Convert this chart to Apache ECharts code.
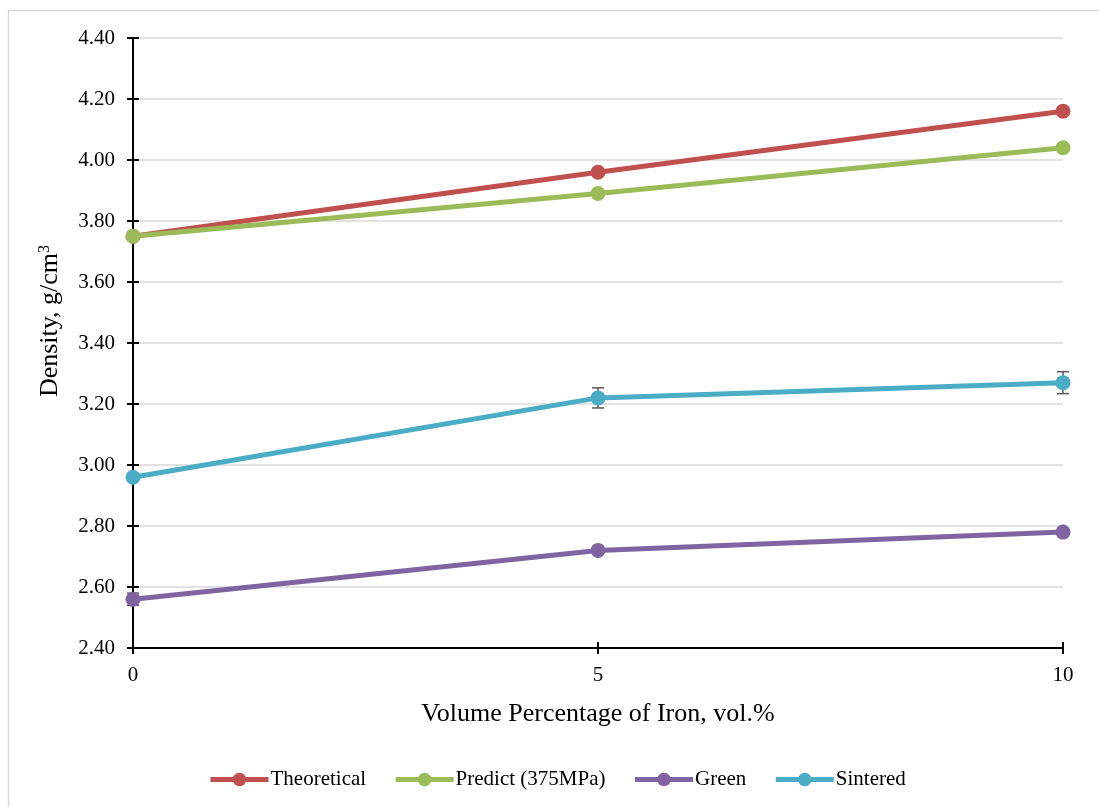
<!DOCTYPE html>
<html>
<head>
<meta charset="utf-8">
<script src="https://cdn.jsdelivr.net/npm/echarts@6/dist/echarts.min.js"></script>
<style>
  html, body { margin: 0; padding: 0; background: #fff; }
  #main { width: 1099px; height: 807px; }
</style>
</head>
<body>
<div id="main"></div>
<script type="text/javascript">
    // data
    var xValues = [0, 5, 10];
    var theoretical = [3.75, 3.96, 4.16];
    var predict = [3.75, 3.89, 4.04];
    var green = [2.56, 2.72, 2.78];
    var sintered = [2.96, 3.22, 3.27];
    var greenErr = [0.02, 0.01, 0.01];
    var sinteredErr = [0.01, 0.033, 0.036];

    var font = '"Liberation Serif", "Times New Roman", serif';

    function pairs(ys) {
        var out = [];
        for (var i = 0; i < ys.length; i++) out.push([xValues[i], ys[i]]);
        return out;
    }
    function errData(ys, es) {
        var out = [];
        for (var i = 0; i < ys.length; i++) out.push([xValues[i], ys[i] - es[i], ys[i] + es[i]]);
        return out;
    }
    function errRender(params, api) {
        var lo = api.coord([api.value(0), api.value(1)]);
        var hi = api.coord([api.value(0), api.value(2)]);
        var w = 6;
        var st = { stroke: '#595959', lineWidth: 1.5 };
        return {
            type: 'group',
            children: [
                { type: 'line', shape: { x1: lo[0], y1: lo[1], x2: hi[0], y2: hi[1] }, style: st },
                { type: 'line', shape: { x1: lo[0] - w, y1: lo[1], x2: lo[0] + w, y2: lo[1] }, style: st },
                { type: 'line', shape: { x1: hi[0] - w, y1: hi[1], x2: hi[0] + w, y2: hi[1] }, style: st }
            ]
        };
    }
    function lineSeries(name, ys, color) {
        return {
            name: name, type: 'line', data: pairs(ys),
            symbol: 'circle', symbolSize: 15,
            lineStyle: { width: 5, color: color },
            itemStyle: { color: color },
            z: 3
        };
    }

    var myChart = echarts.init(document.getElementById('main'));
    var option = {
        animation: false,
        backgroundColor: '#fff',
        textStyle: { fontFamily: font },
        graphic: [{
            type: 'rect', left: 6, top: 8, silent: true,
            shape: { width: 1200, height: 900 },
            style: { fill: 'none', stroke: '#D9D9D9', lineWidth: 1.5 }
        }],
        grid: { left: 133, right: 36, top: 38, bottom: 159 },
        legend: {
            bottom: 12, left: 203, itemGap: 27, itemWidth: 58, itemHeight: 17,
            data: ['Theoretical', 'Predict (375MPa)', 'Green', 'Sintered'],
            lineStyle: { width: 5 },
            textStyle: { fontFamily: font, fontSize: 21, color: '#000', padding: [0, 0, 0, -3] }
        },
        xAxis: [{
            type: 'value', min: 0, max: 10, interval: 5,
            name: 'Volume Percentage of Iron, vol.%', nameLocation: 'middle', nameGap: 53,
            nameTextStyle: { fontFamily: font, fontSize: 26, color: '#000' },
            axisLine: { lineStyle: { color: '#000', width: 2 } },
            axisTick: { show: true, length: 6, lineStyle: { color: '#000', width: 2 } },
            axisLabel: { fontFamily: font, fontSize: 21, color: '#000', margin: 17 },
            splitLine: { show: false }
        }, {
            type: 'value', min: 0, max: 10, interval: 5, position: 'bottom',
            axisLine: { show: false },
            axisTick: { show: true, inside: true, length: 6, lineStyle: { color: '#000', width: 2 } },
            axisLabel: { show: false }, splitLine: { show: false }
        }],
        yAxis: [{
            type: 'value', min: 2.4, max: 4.4, interval: 0.2,
            name: '{n|Density, g/cm}{s|3}', nameLocation: 'middle', nameGap: 70,
            nameTextStyle: {
                fontFamily: font, fontSize: 26, color: '#000', padding: [0, 0, 0, 44],
                rich: {
                    n: { fontFamily: font, fontSize: 26, color: '#000' },
                    s: { fontFamily: font, fontSize: 16, color: '#000', verticalAlign: 'top', padding: [0, 0, 10, 0] }
                }
            },
            axisLine: { show: true, lineStyle: { color: '#000', width: 2 } },
            axisTick: { show: true, length: 6, lineStyle: { color: '#000', width: 2 } },
            axisLabel: { fontFamily: font, fontSize: 21, color: '#000', margin: 18,
                formatter: function (v) { return v.toFixed(2); } },
            splitLine: { show: true, lineStyle: { color: '#D9D9D9', width: 1.5 } }
        }, {
            type: 'value', min: 2.4, max: 4.4, interval: 0.2, position: 'left',
            axisLine: { show: false },
            axisTick: { show: true, inside: true, length: 6, lineStyle: { color: '#000', width: 2 } },
            axisLabel: { show: false }, splitLine: { show: false }
        }],
        series: [
            lineSeries('Theoretical', theoretical, '#C0504D'),
            lineSeries('Predict (375MPa)', predict, '#9BBB59'),
            lineSeries('Green', green, '#8064A2'),
            lineSeries('Sintered', sintered, '#4BACC6'),
            { type: 'custom', renderItem: errRender, data: errData(green, greenErr), z: 2, encode: { x: 0, y: [1, 2] } },
            { type: 'custom', renderItem: errRender, data: errData(sintered, sinteredErr), z: 2, encode: { x: 0, y: [1, 2] } }
        ]
    };
    myChart.setOption(option);
</script>
</body>
</html>
